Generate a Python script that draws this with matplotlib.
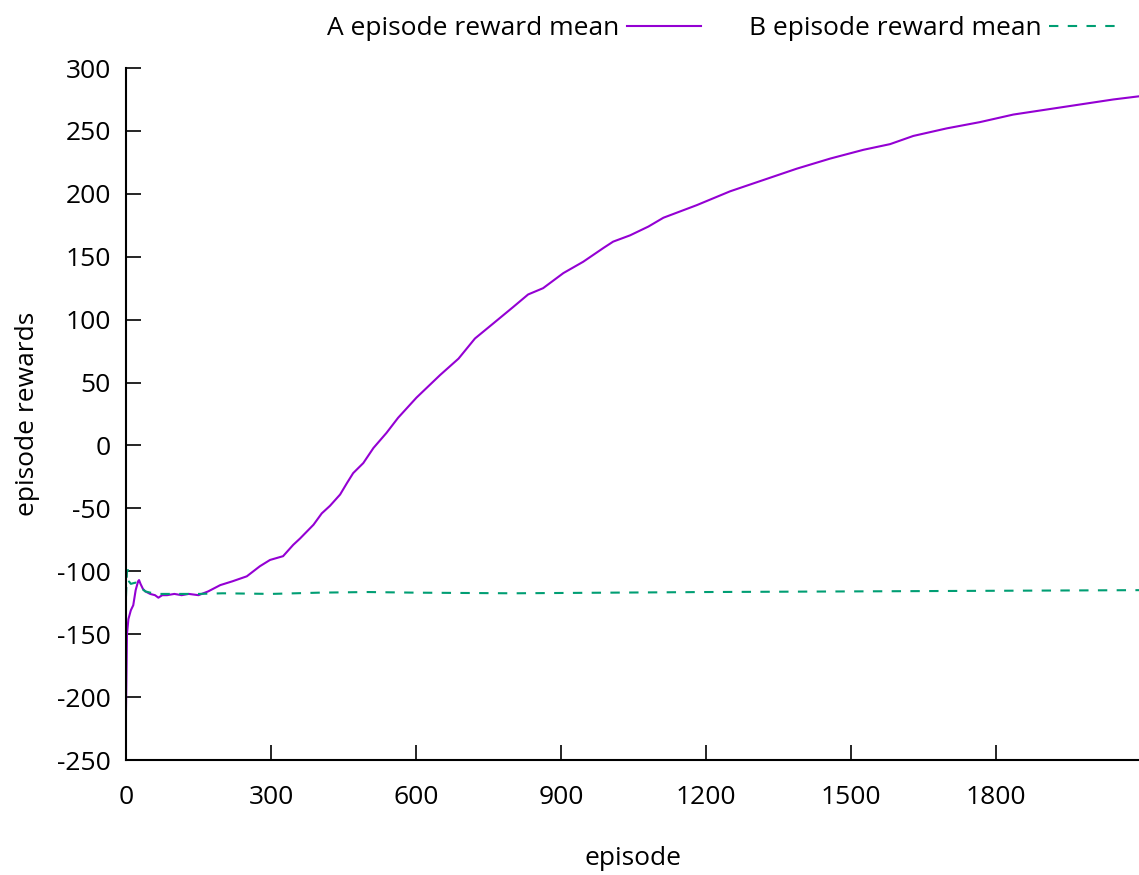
import matplotlib
matplotlib.use("Agg")
import matplotlib.pyplot as plt

plt.rcParams['font.family'] = ['Open Sans', 'DejaVu Sans']
plt.rcParams['axes.unicode_minus'] = False

# run A: mean episode reward
ep_a = [0, 2, 5, 10, 15, 20, 25, 27, 30, 35, 40, 50, 60, 67, 75, 85, 100, 115, 130,
        150, 170, 195, 220, 250, 277, 298, 325, 346, 360, 388, 405, 422, 443, 457,
        470, 491, 512, 539, 563, 601, 650, 688, 722, 760, 801, 832, 863, 905, 946,
        988, 1008, 1043, 1081, 1112, 1181, 1250, 1319, 1388, 1457, 1526, 1581, 1629,
        1698, 1767, 1836, 1905, 1974, 2043, 2096]
rew_a = [-210, -150, -138, -131, -127, -115, -108, -107, -110, -114, -116, -118, -119,
         -121, -119, -119, -118, -119, -118, -119, -116, -111, -108, -104, -96, -91,
         -88, -79, -74, -63, -54, -48, -39, -30, -22, -14, -2, 10, 22, 38, 56, 69, 85,
         97, 110, 120, 125, 137, 146, 157, 162, 167, 174, 181, 191, 202, 211, 220, 228,
         235, 239.5, 246, 252, 257, 263, 267, 271, 275, 277.5]

# run B: mean episode reward
ep_b = [0, 2, 4, 6, 10, 20, 25, 30, 40, 50, 70, 100, 150, 200, 300, 400, 500, 600,
        800, 1000, 1200, 1500, 1800, 2096]
rew_b = [-120, -100, -99, -108, -110, -109, -110, -113, -116, -117, -118, -118, -118,
         -117.5, -118, -117, -116.5, -117, -117.5, -117, -116.5, -116, -115.5, -115]

xticks = [0, 300, 600, 900, 1200, 1500, 1800]
yticks = list(range(-250, 301, 50))

fig = plt.figure(figsize=(11.39, 8.75), dpi=100)
ax = fig.add_axes([126 / 1139, 115 / 875, 1 - 126 / 1139, 692 / 875])

ax.plot(ep_a, rew_a, color='#9400d3', lw=1.5, label='A episode reward mean')
ax.plot(ep_b, rew_b, color='#009e73', lw=1.5, dashes=(4.5, 4.5),
        label='B episode reward mean')

ax.set_xlim(0, 2096)
ax.set_ylim(-250, 300)
ax.set_xticks(xticks)
ax.set_yticks(yticks)

for side in ['top', 'right']:
    ax.spines[side].set_visible(False)
for side in ['left', 'bottom']:
    ax.spines[side].set_linewidth(1.5)

ax.tick_params(axis='both', direction='in', length=11, width=1.2, labelsize=19)
ax.tick_params(axis='y', pad=11)
ax.tick_params(axis='x', pad=18)

ax.set_xlabel('episode', fontsize=19, labelpad=26)
ax.set_ylabel('episode rewards', fontsize=19, labelpad=12)

fig.legend(loc='upper right', bbox_to_anchor=(1.0, 1.0), ncol=2, frameon=False,
           markerfirst=False, fontsize=19, handlelength=2.8, handletextpad=0.3,
           columnspacing=1.8, borderaxespad=0.2)

fig.savefig('out.png', dpi=100)
